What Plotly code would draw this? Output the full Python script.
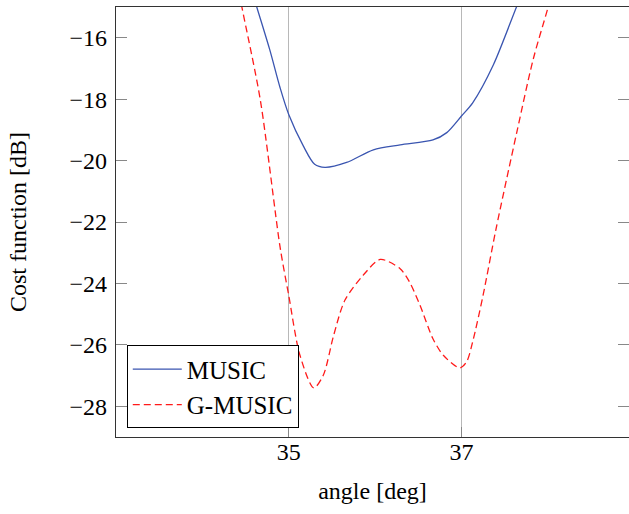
import plotly.graph_objects as go

music_x = [34.45, 34.63, 34.78, 34.90, 35.0, 35.17, 35.30, 35.42, 35.67, 35.98,
           36.29, 36.67, 36.83, 37.0, 37.13, 37.37, 37.64, 37.8]
music_y = [-13.3, -15.0, -16.39, -17.63, -18.5, -19.53, -20.12, -20.22, -20.06, -19.65,
           -19.49, -19.33, -19.09, -18.55, -18.12, -16.88, -14.98, -13.9]

gmusic_x = [34.35, 34.46, 34.67, 34.90, 35.0, 35.13, 35.29, 35.40, 35.52, 35.65,
            35.86, 36.06, 36.29, 36.40, 36.52, 36.67, 36.79, 36.98, 37.06, 37.13,
            37.25, 37.40, 37.64, 37.83, 38.0, 38.15]
gmusic_y = [-13.5, -15.04, -18.01, -22.82, -24.39, -26.34, -27.4, -26.99, -25.69, -24.55,
            -23.74, -23.22, -23.52, -23.96, -24.71, -25.80, -26.34, -26.75, -26.55, -25.90,
            -24.39, -22.23, -19.09, -16.71, -15.04, -13.5]

x_ticks = [35, 37]
y_ticks = [-28, -26, -24, -22, -20, -18, -16]

FONT = "Liberation Serif"

fig = go.Figure()
fig.add_trace(go.Scatter(x=music_x, y=music_y, mode="lines", name="MUSIC",
                         line=dict(color="#3a55b0", width=1.3, shape="spline", smoothing=0.8)))
fig.add_trace(go.Scatter(x=gmusic_x, y=gmusic_y, mode="lines", name="G-MUSIC",
                         line=dict(color="#ff1a1a", width=1.3, dash="7px,4px",
                                   shape="spline", smoothing=0.8)))

fig.update_layout(
    width=629, height=514,
    margin=dict(l=116, r=0, t=7, b=77, autoexpand=False),
    paper_bgcolor="white", plot_bgcolor="white",
    font=dict(family=FONT, size=24, color="black"),
    showlegend=True,
    legend=dict(x=0.021, y=0.02, xanchor="left", yanchor="bottom",
                bordercolor="black", borderwidth=1, bgcolor="white",
                font=dict(family=FONT, size=25), itemwidth=49,
                tracegroupgap=0),
)
fig.update_xaxes(range=[33, 38.94], tickvals=x_ticks, ticktext=[str(v) for v in x_ticks],
                 showgrid=True, gridcolor="#b8b8b8", gridwidth=1,
                 showline=True, linecolor="#333333", linewidth=1.2, mirror=True,
                 ticks="inside", ticklen=10, tickcolor="#888888",
                 zeroline=False, ticklabelstandoff=-7, automargin=False,
                 tickfont=dict(family=FONT, size=24),
                 title=dict(text="angle [deg]", standoff=18, font=dict(family=FONT, size=24)))
fig.update_yaxes(range=[-29, -15], tickvals=y_ticks,
                 showgrid=False,
                 showline=True, linecolor="#333333", linewidth=1.2, mirror="ticks",
                 ticks="inside", ticklen=11, tickcolor="#888888",
                 zeroline=False, ticklabelstandoff=3, automargin=False,
                 tickfont=dict(family=FONT, size=24),
                 title=dict(text="Cost function [dB]", standoff=36, font=dict(family=FONT, size=24)))

fig.write_html("out.html", config={"displayModeBar": False},
               post_script="document.body.style.margin='0';")
